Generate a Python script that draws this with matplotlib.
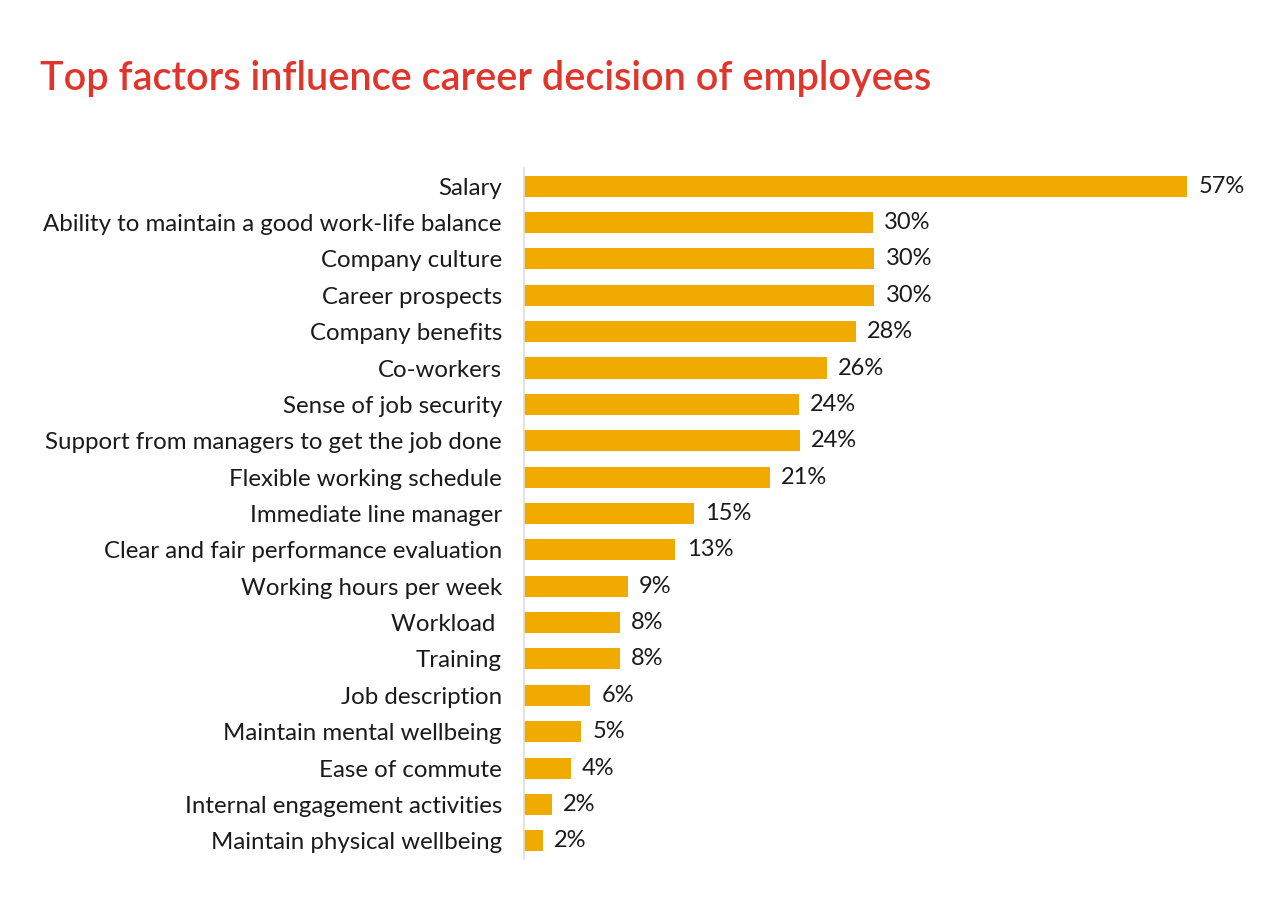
import matplotlib
matplotlib.use("Agg")
import matplotlib.pyplot as plt

categories = [
    "Salary",
    "Ability to maintain a good work-life balance",
    "Company culture",
    "Career prospects",
    "Company benefits",
    "Co-workers",
    "Sense of job security",
    "Support from managers to get the job done",
    "Flexible working schedule",
    "Immediate line manager",
    "Clear and fair performance evaluation",
    "Working hours per week",
    "Workload ",
    "Training",
    "Job description",
    "Maintain mental wellbeing",
    "Ease of commute",
    "Internal engagement activities",
    "Maintain physical wellbeing",
]
# bar lengths as drawn in the picture
bar_values = [57, 30, 30.1, 30.1, 28.5, 26.0, 23.6, 23.7, 21.1, 14.6, 13.0,
              8.9, 8.2, 8.2, 5.7, 4.9, 4.0, 2.4, 1.6]
value_labels = ["57%", "30%", "30%", "30%", "28%", "26%", "24%", "24%", "21%",
                "15%", "13%", "9%", "8%", "8%", "6%", "5%", "4%", "2%", "2%"]

plt.rcParams['font.family'] = ['Lato', 'DejaVu Sans']

fig = plt.figure(figsize=(12.8, 9), dpi=100)
ax = fig.add_axes([0.4095, 0.0456, 0.5455, 0.7677])

y = list(range(len(categories)))
ax.barh(y, bar_values, height=0.58, color="#F0AA00", zorder=2)
for yi, v, lab in zip(y, bar_values, value_labels):
    ax.annotate(lab, (v, yi), xytext=(8, 0), textcoords="offset points",
                va="center", ha="left", fontsize=17, color="#1a1a1a")

ax.set_xlim(0, 60)
ax.set_ylim(18.5, -0.5)
ax.set_yticks(y)
ax.set_yticklabels(categories, fontsize=17.3, color="#1a1a1a")
ax.tick_params(axis="y", length=0, pad=16)
ax.set_xticks([])
for s in ["top", "right", "bottom"]:
    ax.spines[s].set_visible(False)
ax.spines["left"].set_color("#dddddd")
ax.spines["left"].set_linewidth(1.2)

fig.text(0.031, 0.913, "Top factors influence career decision of employees",
         fontsize=28.5, fontweight="semibold", color="#E0352B", ha="left", va="center")

fig.savefig("out.png", dpi=100, facecolor="white")
